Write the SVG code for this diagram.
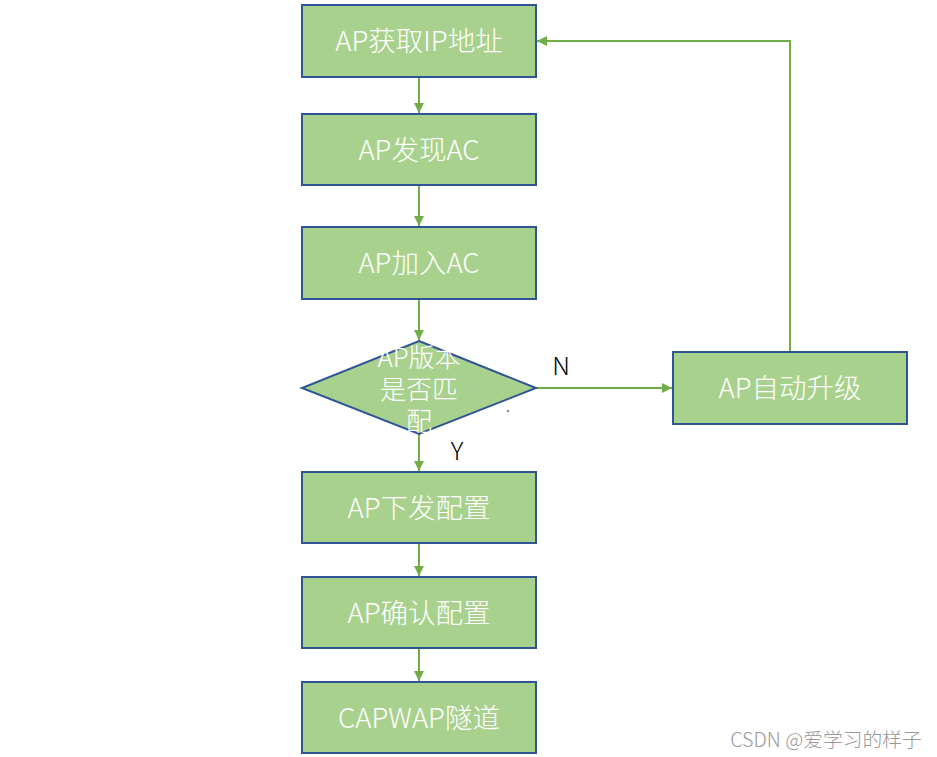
<svg xmlns="http://www.w3.org/2000/svg" width="937" height="757" viewBox="0 0 937 757">
<style>
.box{fill:#A9D18E;stroke:#2F5597;stroke-width:2}
.t{fill:#fff;font-family:"Noto Sans CJK SC","Noto Sans",sans-serif;font-weight:300;font-size:27.5px;text-anchor:middle;dominant-baseline:central}
.dt{fill:#fff;font-family:"Noto Sans CJK SC","Noto Sans",sans-serif;font-weight:300;font-size:26px;text-anchor:middle;dominant-baseline:central}
.c{fill:none;stroke:#70AD47;stroke-width:2}
.lbl{fill:#000;font-family:"Noto Sans CJK SC","Noto Sans",sans-serif;font-weight:300;font-size:25px;text-anchor:middle;dominant-baseline:central}
</style>
<defs>
<marker id="ah" viewBox="0 0 10 10" refX="10" refY="5" markerWidth="5" markerHeight="5" orient="auto" markerUnits="strokeWidth">
<path d="M0,0 L10,5 L0,10 z" fill="#70AD47"/>
</marker>
</defs>
<rect width="937" height="757" fill="#fff"/>
<g id="connectors">
<line class="c" x1="419" y1="77" x2="419" y2="113" marker-end="url(#ah)"/>
<line class="c" x1="419" y1="185" x2="419" y2="226" marker-end="url(#ah)"/>
<line class="c" x1="419" y1="299" x2="419" y2="340" marker-end="url(#ah)"/>
<line class="c" x1="419" y1="434" x2="419" y2="471" marker-end="url(#ah)"/>
<line class="c" x1="419" y1="543" x2="419" y2="576" marker-end="url(#ah)"/>
<line class="c" x1="419" y1="648" x2="419" y2="681" marker-end="url(#ah)"/>
<line class="c" x1="536" y1="388" x2="672" y2="388" marker-end="url(#ah)"/>
<polyline class="c" points="790,352 790,41 537,41" marker-end="url(#ah)"/>
<text class="lbl" x="561" y="364">N</text>
<text class="lbl" x="457" y="449">Y</text>
</g>
<g id="n1"><rect class="box" x="302" y="5" width="234" height="72"/><text class="t" x="419" y="39">AP获取IP地址</text></g>
<g id="n2"><rect class="box" x="302" y="114" width="234" height="71"/><text class="t" x="419" y="148">AP发现AC</text></g>
<g id="n3"><rect class="box" x="302" y="227" width="234" height="72"/><text class="t" x="419" y="261">AP加入AC</text></g>
<g id="n4"><polygon class="box" points="419,341 536,388 419,434 302,388"/>
<text class="dt" x="419" y="355">AP版本</text><text class="dt" x="419" y="387">是否匹</text><text class="dt" x="419" y="419">配</text>
<circle cx="508" cy="411" r="1.2" fill="#888"/></g>
<g id="n5"><rect class="box" x="673" y="352" width="234" height="72"/><text class="t" x="790" y="386">AP自动升级</text></g>
<g id="n6"><rect class="box" x="302" y="472" width="234" height="71"/><text class="t" x="419" y="506">AP下发配置</text></g>
<g id="n7"><rect class="box" x="302" y="577" width="234" height="71"/><text class="t" x="419" y="611">AP确认配置</text></g>
<g id="n8"><rect class="box" x="302" y="682" width="234" height="71"/><text class="t" x="419" y="716">CAPWAP隧道</text></g>
<text x="826" y="738" fill="#999" font-family="Noto Sans CJK SC,Noto Sans,sans-serif" font-weight="300" font-size="19.8" text-anchor="middle" dominant-baseline="central">CSDN @爱学习的样子</text>
</svg>
